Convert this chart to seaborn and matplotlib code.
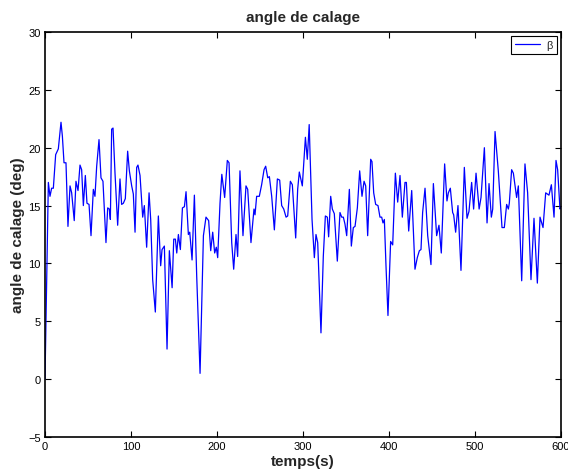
import numpy as np
import pandas as pd
import matplotlib
matplotlib.use("Agg")
import matplotlib.pyplot as plt
import seaborn as sns

temps = [0, 3.9, 5.8, 7.7, 9.7, 12.4, 15.5, 18.6, 20.2, 22.1, 24.4, 26.7, 29.1, 31, 34, 36, 38.4,
         40.7, 42.6, 44.6, 46.9, 48.8, 51.2, 53.5, 56.2, 58.1, 60.1, 62.8, 65.1, 67.4, 69, 70.9,
         72.9, 74.8, 76, 77.5, 79.1, 81.4, 84.5, 87.2, 89.1, 91.1, 93.4, 96.1, 98.1, 100.8, 102.7,
         104.7, 106.6, 108.1, 110.5, 113.6, 115.5, 118.2, 121, 122.9, 125.2, 128.3, 131.8, 134.5,
         136.1, 138.8, 141.9, 144.6, 147.8, 149.7, 151.6, 153.2, 155.1, 157.4, 159.8, 162.1, 164.0,
         166.7, 168.3, 171.0, 173.7, 176.4, 180.3, 184.2, 187.2, 190.3, 192.7, 195.0, 197.3, 199.2,
         200.8, 203.5, 205.6, 208.9, 212, 214, 217.1, 219.4, 222.1, 224.0, 226.7, 230.2, 233.7,
         235.7, 239.5, 243.0, 244.2, 246.1, 249.2, 251.9, 254.7, 256.6, 259, 260.9, 263.6, 266.7,
         270.2, 272.9, 275.2, 277.6, 280.3, 282.2, 285.3, 287.6, 291.5, 293.8, 295.7, 299.2, 302.8,
         305.0, 307.2, 310.5, 313.2, 315.1, 317.1, 320.9, 323.6, 326.0, 328.3, 329.8, 332.2, 334.1,
         336.4, 339.9, 343.0, 345.0, 346.9, 348.8, 350.8, 353.9, 356.2, 358.5, 360.5, 363.2, 365.9,
         368.6, 371.0, 372.9, 375.2, 378.7, 380.2, 382.2, 384.5, 387.2, 389.5, 391.5, 393.0, 394.6,
         396.5, 398.8, 401.9, 404.3, 407.4, 410.1, 412.8, 415.5, 418.6, 420.2, 422.9, 426.4, 430.2,
         432.9, 435.3, 437.2, 439.1, 441.9, 445.0, 448.8, 451.6, 455.4, 458.1, 460.8, 464.7, 467.4,
         469.0, 471.3, 474.0, 475.2, 477.5, 480.2, 483.7, 487.6, 490.7, 493.0, 496.1, 498.4, 501.2,
         504.8, 507.0, 510.9, 514.0, 516.3, 519.0, 520.6, 523.3, 527.1, 531.4, 534.1, 536.8, 538.8,
         539.9, 542.6, 544.6, 548.4, 550.4, 554.3, 558.1, 561.2, 565.1, 568.6, 572.5, 575.6, 579.1,
         582.2, 586.0, 588.8, 591.9, 594.2, 596.1, 598.8, 600]
beta = [0, 17.0, 15.8, 16.5, 16.5, 19.4, 19.9, 22.2, 21.0, 18.7, 18.7, 13.2, 16.7, 16.1, 13.7, 17.1,
        16.3, 18.5, 18.1, 15.0, 17.6, 15.2, 15.1, 12.4, 16.4, 15.8, 18.4, 20.7, 17.4, 17.1, 14.7,
        11.8, 14.8, 14.7, 13.8, 21.6, 21.7, 17.8, 13.3, 17.3, 15.1, 15.2, 15.6, 19.7, 18.0, 16.7,
        16.0, 12.7, 18.3, 18.5, 17.6, 14.0, 15.0, 11.4, 16.1, 13.8, 8.6, 5.8, 14.1, 9.8, 11.2, 11.5,
        2.6, 11.1, 7.9, 12.1, 12.1, 10.9, 12.5, 11.2, 14.8, 14.9, 16.2, 12.5, 12.7, 10.3, 15.9, 8.9,
        0.5, 12.4, 14.0, 13.7, 11.1, 12.7, 10.9, 11.4, 10.5, 15.2, 17.7, 15.7, 18.9, 18.7, 11.8, 9.5,
        12.5, 10.6, 18.0, 12.4, 16.7, 16.4, 11.8, 14.7, 14.2, 15.8, 15.8, 16.8, 18.1, 18.4, 17.4,
        17.5, 15.8, 12.9, 17.3, 17.2, 15.0, 14.7, 14.0, 14.1, 17.1, 16.8, 12.2, 16.4, 17.9, 16.7,
        20.9, 19.0, 22.0, 13.8, 10.5, 12.5, 11.8, 4.0, 10.6, 14.1, 14.0, 12.3, 15.8, 14.7, 14.3,
        10.2, 14.4, 14.0, 14.0, 13.4, 12.4, 16.4, 11.5, 13.1, 13.2, 14.8, 18.0, 15.8, 17.1, 16.7,
        12.4, 19.0, 18.8, 16.1, 15.1, 15.0, 14.0, 14.0, 13.5, 13.8, 9.8, 5.5, 11.9, 11.6, 17.8,
        15.3, 17.6, 14.0, 17.0, 17.0, 12.8, 16.3, 9.5, 10.5, 11.1, 11.2, 14.4, 16.5, 12.4, 9.9,
        16.9, 12.4, 13.3, 10.9, 18.6, 15.4, 16.1, 16.5, 14.4, 14.2, 12.7, 15.0, 9.4, 18.3, 13.9,
        14.5, 17.0, 14.7, 17.8, 14.7, 15.7, 20.0, 13.5, 16.9, 14.0, 14.7, 21.4, 18.0, 13.1, 13.1,
        15.1, 14.7, 15.2, 18.1, 17.8, 15.7, 16.7, 8.5, 18.6, 16.1, 8.6, 13.9, 8.3, 14.0, 13.1, 16.1,
        15.9, 16.8, 14.0, 18.9, 18.1, 14.7, 14.9]

x_ticks = [0, 100, 200, 300, 400, 500, 600]
y_ticks = [-5, 0, 5, 10, 15, 20, 25, 30]

df = pd.DataFrame({"temps": temps, "beta": beta})

sns.set_style("white")
plt.rcParams["font.family"] = ["Liberation Sans", "DejaVu Sans"]

fig = plt.figure(figsize=(5.68, 4.77), dpi=100)
ax = fig.add_axes([45 / 568, 39 / 477, 516 / 568, 405 / 477])

sns.lineplot(data=df, x="temps", y="beta", ax=ax, color="#0000ff", linewidth=0.9,
             label="\u03b2", estimator=None, sort=False)

ax.set_xlim(0, 600)
ax.set_ylim(-5, 30)
ax.set_xticks(x_ticks)
ax.set_yticks(y_ticks)
ax.set_xticklabels([str(v) for v in x_ticks], fontsize=8)
ax.set_yticklabels([str(v).replace("-", "\u2212") for v in y_ticks], fontsize=8)
ax.tick_params(direction="in", length=4, width=0.8, top=True, right=True,
               bottom=True, left=True, pad=3, colors="black")
for s in ax.spines.values():
    s.set_visible(True)
    s.set_color("black")
    s.set_linewidth(1.2)

ax.set_title("angle de calage", fontsize=11, fontweight="bold", pad=8)
ax.set_xlabel("temps(s)", fontsize=11, fontweight="bold", labelpad=2)
ax.set_ylabel("angle de calage (deg)", fontsize=11, fontweight="bold", labelpad=2)

leg = ax.legend(loc="upper right", fontsize=8, frameon=True, fancybox=False,
                framealpha=1, edgecolor="black", handlelength=2.2, borderpad=0.35,
                handletextpad=0.6, borderaxespad=0.4)
leg.get_frame().set_linewidth(0.8)

fig.savefig("out.png", dpi=100)
